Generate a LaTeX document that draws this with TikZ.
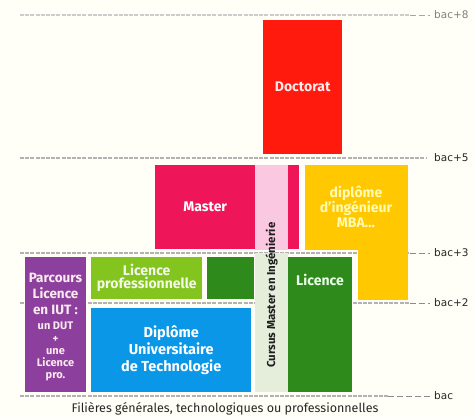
\documentclass[tikz,border=0pt]{standalone}
\usepackage{fontspec}
\setmainfont{Fira Sans}
\newfontfamily\labfont{DejaVu Sans}
\definecolor{bg}{HTML}{FFFFF7}
\definecolor{docred}{HTML}{FF1A0D}
\definecolor{mastred}{HTML}{EE1559}
\definecolor{pinkstrip}{HTML}{FBC8E2}
\definecolor{paleband}{HTML}{E4EEDB}
\definecolor{yel}{HTML}{FFC800}
\definecolor{purp}{HTML}{8C3F9C}
\definecolor{lime}{HTML}{84C41F}
\definecolor{dgreen}{HTML}{2E8A1B}
\definecolor{blu}{HTML}{0A97E8}
\begin{document}
\begin{tikzpicture}[x=1pt,y=-1pt,
 box/.style={draw=none,inner sep=0pt,anchor=north west,font=\bfseries\fontsize{14}{17}\selectfont,text=white,align=center},
 lev/.style={draw=black!30, line width=1.1pt, dash pattern=on 4pt off 1.2pt},
 levtail/.style={draw=black!45, line width=0.8pt, dash pattern=on 6pt off 3pt},
 lab/.style={anchor=west,font=\labfont\fontsize{10.5}{12}\selectfont,text=black!85,inner sep=0pt},
 txt/.style={font=\bfseries\fontsize{14}{15}\selectfont,align=center,inner sep=0pt}]
\fill[bg] (0,0) rectangle (474,417);
\useasboundingbox (0,0) rectangle (474,417);

% level lines
\coordinate (s8) at (20,15);  \coordinate (e8) at (410,15);
\coordinate (s5) at (20,158); \coordinate (e5) at (426,158);
\coordinate (s3) at (20,253); \coordinate (e3) at (410,253);
\coordinate (s2) at (20,303); \coordinate (e2) at (410,303);
\coordinate (s0) at (20,396); \coordinate (e0) at (388,396);
\node[lab,text=black!50] (b8) at (434,15) {bac+8};
\node[lab] (b5) at (434,158) {bac+5};
\node[lab] (b3) at (434,253) {bac+3};
\node[lab] (b2) at (434,303) {bac+2};
\node[lab] (b0) at (434,396) {bac};
\draw[lev,draw=black!20] (s8) -- (e8);
\draw[levtail,draw=black!35] (e8) -- ([xshift=-4pt]b8.west);
\draw[lev] (s5) -- (e5);
\draw[lev] (s3) -- (e3);
\draw[levtail] (e3) -- ([xshift=-4pt]b3.west);
\draw[lev] (s2) -- (e2);
\draw[levtail] (e2) -- ([xshift=-4pt]b2.west);
\draw[lev] (s0) -- (e0);
\draw[levtail] (e0) -- ([xshift=-4pt]b0.west);

% boxes
\node[box,fill=docred,minimum width=79,minimum height=134,text=white!92!red] (doc) at (263,20) {Doctorat};
\node[box,fill=mastred,minimum width=100,minimum height=84] (mast) at (155,165) {Master};
\node[box,fill=pinkstrip,minimum width=33,minimum height=85] (pink) at (255,165) {};
\node[box,fill=paleband,minimum width=33,minimum height=139] (band) at (255,253) {};
\node[box,fill=mastred,minimum width=11,minimum height=84] (mast2) at (288,165) {};
\node[box,fill=yel,minimum width=103,minimum height=85] (yelt) at (305,165) {};
\node[box,fill=yel,minimum width=50,minimum height=50] (yelb) at (358,250) {};
\node[txt,text=yellow!30!white] (ingtxt) at (356,207) {diplôme\\d'ingénieur\\MBA...};
\node[box,fill=purp,minimum width=61,minimum height=135] (purpb) at (25,257) {};
\node[txt,text=white!92!purple,font=\bfseries\fontsize{13.5}{16}\selectfont] (purptxt) at (55.5,327) {Parcours\\Licence\\en IUT :\\[-1pt]{\fontsize{11}{12}\selectfont un DUT}\\[-3pt]{\fontsize{11}{9}\selectfont +}\\[-4pt]{\fontsize{11}{12}\selectfont une}\\[-4pt]{\fontsize{11}{12}\selectfont Licence}\\[-4pt]{\fontsize{11}{12}\selectfont pro.}};
\node[box,fill=lime,minimum width=111,minimum height=42,text=white!90!lime,font=\bfseries\fontsize{14}{13}\selectfont] (lpro) at (91,257) {Licence\\professionnelle};
\node[box,fill=dgreen,minimum width=47,minimum height=42] (dg) at (207,257) {};
\node[box,fill=blu,minimum width=160,minimum height=84,font=\bfseries\fontsize{14.5}{17}\selectfont] (dut) at (91,308) {Diplôme\\Universitaire\\de Technologie};
\node[box,fill=dgreen,minimum width=64,minimum height=135] (lic) at (288,257) {};
\node[txt,text=white!92!green] (lictxt) at (320,280) {Licence};
\node[txt,rotate=90,anchor=west,text=black!88,font=\bfseries\fontsize{11.5}{15}\selectfont] (cursus) at (271.5,368) {Cursus Master en Ingénierie};

\node[font=\fontsize{12.5}{14}\selectfont,text=black!85,inner sep=0pt] (foot) at (225,409) {Filières générales, technologiques ou professionnelles};
\end{tikzpicture}
\end{document}
